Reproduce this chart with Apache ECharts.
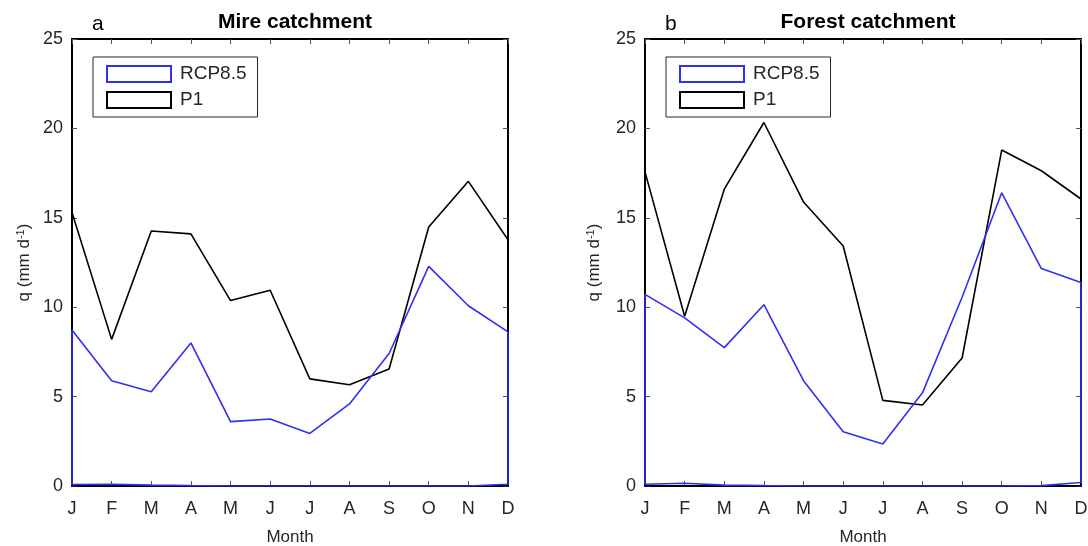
<!DOCTYPE html>
<html><head><meta charset="utf-8">
<script src="https://cdn.jsdelivr.net/npm/echarts@6/dist/echarts.min.js"></script>
<style>html,body{margin:0;padding:0;background:#fff}#c{width:1088px;height:546px}</style>
</head><body><div id="c"></div>
<script>
const months = ['J','F','M','A','M','J','J','A','S','O','N','D'];
const yTicks = [0,5,10,15,20,25];
// Panel a: Mire catchment
const mireP1Upper = [15.3,8.2,14.26,14.1,10.37,10.95,5.99,5.66,6.54,14.49,17.04,13.77];
const mireP1Lower = [0,0,0,0,0,0,0,0,0,0,0,0];
const mireRcpUpper = [8.72,5.89,5.27,8.0,3.6,3.75,2.94,4.59,7.41,12.28,10.08,8.62];
const mireRcpLower = [0.08,0.1,0.05,0.02,0,0,0,0,0,0,0,0.1];
// Panel b: Forest catchment
const forP1Upper = [17.57,9.49,16.6,20.33,15.88,13.42,4.79,4.53,7.16,18.79,17.63,16.05];
const forP1Lower = [0,0,0,0,0,0,0,0,0,0,0,0];
const forRcpUpper = [10.72,9.4,7.74,10.14,5.89,3.04,2.35,5.21,10.56,16.4,12.16,11.38];
const forRcpLower = [0.1,0.15,0.05,0.02,0,0,0,0,0,0,0.02,0.2];

function polygon(upper, lower){
  const pts = [];
  for (let i=0;i<upper.length;i++) pts.push([i+1, upper[i]]);
  for (let i=lower.length-1;i>=0;i--) pts.push([i+1, lower[i]]);
  pts.push([1, upper[0]]);
  return pts;
}
const BLUE = '#2f2ff5', BLACK = '#000';
const FONT = 'Liberation Sans, Arial, sans-serif';
const TXT = '#262626';
const grids = [
  {left:72, top:39, width:436, height:447, outerBoundsMode:'none', containLabel:false},
  {left:645, top:39, width:436, height:447, outerBoundsMode:'none', containLabel:false}
];
const xAxes = [], yAxes = [], series = [], legends = [], titles = [];
const panels = [
  {title:'Mire catchment', tag:'a', p1:[mireP1Upper,mireP1Lower], rcp:[mireRcpUpper,mireRcpLower]},
  {title:'Forest catchment', tag:'b', p1:[forP1Upper,forP1Lower], rcp:[forRcpUpper,forRcpLower]}
];
panels.forEach((p, k) => {
  const g = grids[k];
  const axisLine = {show:true, onZero:false, lineStyle:{color:'#000', width:2}};
  const tick = {show:true, inside:true, length:5, lineStyle:{color:'#555', width:1}};
  xAxes.push({type:'value', gridIndex:k, min:1, max:12, interval:1, position:'bottom',
    axisLine, axisTick:tick, splitLine:{show:false},
    axisLabel:{margin:14, fontSize:18, color:TXT, fontFamily:FONT, formatter:v=>months[v-1]||''},
    name:'Month', nameLocation:'middle', nameGap:43, nameTextStyle:{fontSize:17, color:TXT, fontFamily:FONT}});
  xAxes.push({type:'value', gridIndex:k, min:1, max:12, interval:1, position:'top',
    axisLine, axisTick:tick, splitLine:{show:false}, axisLabel:{show:false}});
  yAxes.push({type:'value', gridIndex:k, min:0, max:25, interval:5, position:'left',
    axisLine, axisTick:tick, splitLine:{show:false},
    axisLabel:{margin:9, fontSize:18, color:TXT, fontFamily:FONT, formatter:v=>yTicks.includes(v)?String(v):''},
    name:'q (mm d{sup|-1})', nameLocation:'middle', nameGap: k===0?39:42, nameRotate:90,
    nameTextStyle:{fontSize:17, color:TXT, fontFamily:FONT, rich:{sup:{fontSize:11, verticalAlign:'top', padding:[0,0,7,0], color:TXT, fontFamily:FONT}}}});
  yAxes.push({type:'value', gridIndex:k, min:0, max:25, interval:5, position:'right',
    axisLine, axisTick:tick, splitLine:{show:false}, axisLabel:{show:false}});
  series.push({name:'P1', type:'line', xAxisIndex:2*k, yAxisIndex:2*k, data:polygon(p.p1[0],p.p1[1]),
    symbol:'none', lineStyle:{color:BLACK, width:1.6}, itemStyle:{color:'#fff', borderColor:BLACK, borderWidth:1.5}, z:3});
  series.push({name:'RCP8.5', type:'line', xAxisIndex:2*k, yAxisIndex:2*k, data:polygon(p.rcp[0],p.rcp[1]),
    symbol:'none', lineStyle:{color:BLUE, width:1.6}, itemStyle:{color:'#fff', borderColor:BLUE, borderWidth:1.5}, z:4});
  legends.push({data:['RCP8.5','P1'], orient:'vertical', left:g.left+21, top:57, icon:'rect',
    itemWidth:64, itemHeight:16, itemGap:6, padding:[7,11,7,13],
    backgroundColor:'#fff', borderColor:TXT, borderWidth:1, selectedMode:false,
    textStyle:{fontSize:19, lineHeight:20, color:TXT, fontFamily:FONT, padding:[0,0,0,4]}});
  titles.push({text:p.title, left:g.left+g.width/2, textAlign:'center', top:7,
    textStyle:{fontSize:21, fontWeight:'bold', color:'#000', fontFamily:FONT}});
  titles.push({text:p.tag, left:g.left+15, top:9, textStyle:{fontSize:21, fontWeight:'normal', color:'#000', fontFamily:FONT}});
});
const chart = echarts.init(document.getElementById('c'), null, {renderer:'canvas'});
chart.setOption({animation:false, backgroundColor:'#fff', title:titles, grid:grids, xAxis:xAxes, yAxis:yAxes, legend:legends, series});
</script></body></html>
